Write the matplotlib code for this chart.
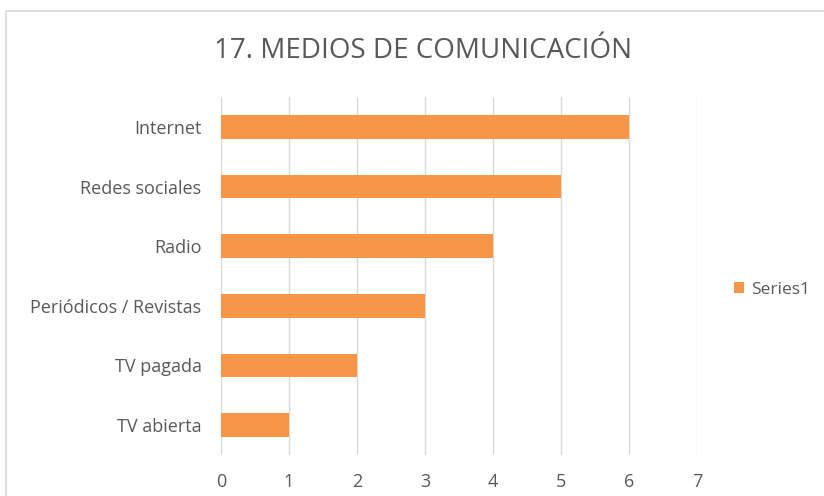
import matplotlib.pyplot as plt
from matplotlib.patches import Rectangle

# datos
categories = ["TV abierta", "TV pagada", "Periódicos / Revistas", "Radio", "Redes sociales", "Internet"]
values = [1, 2, 3, 4, 5, 6]
ticks = [0, 1, 2, 3, 4, 5, 6, 7]

plt.rcParams['font.family'] = ['Open Sans', 'DejaVu Sans']
txt = '#595959'
bar_color = '#F79646'

fig = plt.figure(figsize=(8.24, 4.96), dpi=100)
ax = fig.add_axes([221 / 824, 1 - 455 / 496, 476 / 824, 358 / 496])

ax.barh(categories, values, height=0.4, color=bar_color, label='Series1', zorder=3)
ax.set_xlim(0, 7)
ax.set_ylim(-0.5, len(categories) - 0.5)
ax.set_xticks(ticks)
ax.grid(axis='x', color='#D9D9D9', linewidth=1, zorder=0)
for s in ax.spines.values():
    s.set_visible(False)
ax.tick_params(length=0, colors=txt, labelsize=13)
ax.tick_params(axis='x', pad=13)
ax.tick_params(axis='y', pad=14)

fig.text(423 / 824, 1 - 51 / 496, "17. MEDIOS DE COMUNICACIÓN", ha='center', va='center',
         fontsize=20, color=txt)

ax.legend(loc='center left', bbox_to_anchor=(718 / 824, 1 - 290 / 496), bbox_transform=fig.transFigure,
          frameon=False, fontsize=12.5, labelcolor=txt, handlelength=0.6, handleheight=0.6, handletextpad=0.4)

# borde del grafico
fig.patches.append(Rectangle((6 / 824, -0.1), 1.2, 1 - 11 / 496 + 0.1, transform=fig.transFigure,
                             fill=False, edgecolor='#D9D9D9', linewidth=1.2))

fig.savefig('out.png', dpi=100)
